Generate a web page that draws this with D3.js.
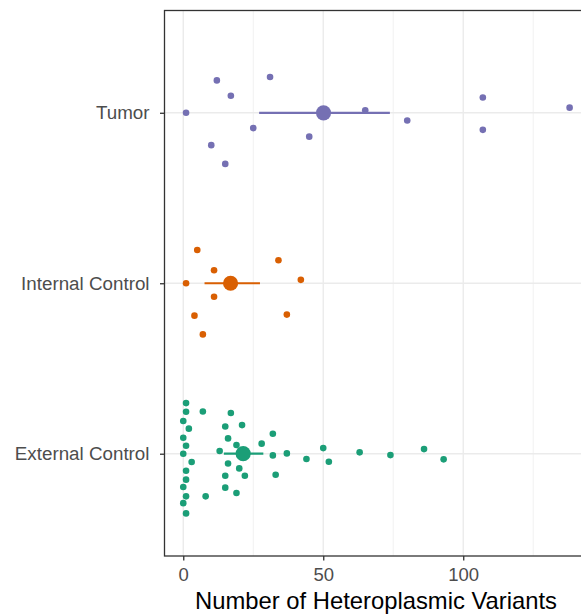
<!DOCTYPE html>
<html>
<head>
<meta charset="utf-8">
<script src="https://cdn.jsdelivr.net/npm/d3@7"></script>
<style>
  body { margin: 0; background: #fff; }
  svg { display: block; font-family: 'Liberation Sans', Arial, sans-serif; }
</style>
</head>
<body>
<div class="container"></div>
<script>
// groups, bottom to top
const groups = ['External Control', 'Internal Control', 'Tumor'];
const colors = ['#1b9e77', '#d95f02', '#7570b3'];

// per-point values and vertical jitter (in category units)
const tumorValues = [1, 12, 17, 31, 25, 10, 15, 45, 65, 80, 107, 107, 138];
const tumorJitter = [0, 0.19, 0.1, 0.21, -0.09, -0.19, -0.3, -0.14, 0.015, -0.045, 0.09, -0.1, 0.03];

const internalValues = [5, 11, 1, 11, 4, 7, 34, 42, 37];
const internalJitter = [0.195, 0.076, 0, -0.079, -0.19, -0.3, 0.135, 0.02, -0.184];

const externalValues = [1, 1, 7, 17, 0, 2, 15, 21, 32, 0, 16, 1, 19, 28, 0, 13, 32, 37, 50, 63,
  74, 86, 93, 44, 52, 3, 16, 20, 1, 15, 22, 33, 1, 0, 15, 1, 8, 19, 0, 1];
const externalJitter = [0.297, 0.246, 0.248, 0.239, 0.192, 0.147, 0.16, 0.168, 0.117, 0.094, 0.09,
  0.047, 0.051, 0.059, 0, 0.016, -0.01, 0.002, 0.033, 0.008, -0.008, 0.027, -0.033, -0.031, -0.047,
  -0.049, -0.057, -0.086, -0.1, -0.129, -0.129, -0.123, -0.152, -0.195, -0.199, -0.25, -0.25, -0.23,
  -0.29, -0.35];

// summary: mean and interval, same order as groups
const means = [21.4, 16.9, 50.1];
const lower = [14.5, 7.6, 27.1];
const upper = [28.6, 27.4, 73.8];

const xTicks = [0, 50, 100];
const xMinor = [25, 75, 125];

const w = 581;
const h = 614;
const pLeft = 164.5;
const pTop = 10.5;
const pBottom = 556;
const pRight = 589.5;

const svg = d3
  .select('.container')
  .append('svg')
  .attr('width', w)
  .attr('height', h);

const xScale = d3.scaleLinear().domain([-6.7, 145.1]).range([pLeft, pRight]);
const yScale = d3.scaleLinear().domain([0.4, 3.6]).range([pBottom, pTop]);

svg
  .append('defs')
  .append('clipPath')
  .attr('id', 'panel')
  .append('rect')
  .attr('x', pLeft)
  .attr('y', pTop)
  .attr('width', pRight - pLeft)
  .attr('height', pBottom - pTop);

const panel = svg.append('g').attr('clip-path', 'url(#panel)');

// grid
panel
  .selectAll('.minor')
  .data(xMinor)
  .enter()
  .append('line')
  .attr('x1', (d) => xScale(d))
  .attr('x2', (d) => xScale(d))
  .attr('y1', pTop)
  .attr('y2', pBottom)
  .style('stroke', '#ebebeb')
  .style('stroke-width', 0.7);

panel
  .selectAll('.major')
  .data(xTicks)
  .enter()
  .append('line')
  .attr('x1', (d) => xScale(d))
  .attr('x2', (d) => xScale(d))
  .attr('y1', pTop)
  .attr('y2', pBottom)
  .style('stroke', '#ebebeb')
  .style('stroke-width', 1.4);

panel
  .selectAll('.hgrid')
  .data([1, 2, 3])
  .enter()
  .append('line')
  .attr('x1', pLeft)
  .attr('x2', pRight)
  .attr('y1', (d) => yScale(d))
  .attr('y2', (d) => yScale(d))
  .style('stroke', '#ebebeb')
  .style('stroke-width', 1.4);

// points
const series = [
  [externalValues, externalJitter],
  [internalValues, internalJitter],
  [tumorValues, tumorJitter]
];

series.forEach(function (s, gi) {
  const pts = s[0].map((v, i) => ({ v: v, j: s[1][i] }));
  panel
    .append('g')
    .selectAll('circle')
    .data(pts)
    .enter()
    .append('circle')
    .attr('cx', (d) => xScale(d.v))
    .attr('cy', (d) => yScale(gi + 1 + d.j))
    .attr('r', 3.3)
    .style('fill', colors[gi]);
});

// intervals and means
panel
  .selectAll('.bar')
  .data(groups)
  .enter()
  .append('line')
  .attr('x1', (d, i) => xScale(lower[i]))
  .attr('x2', (d, i) => xScale(upper[i]))
  .attr('y1', (d, i) => yScale(i + 1))
  .attr('y2', (d, i) => yScale(i + 1))
  .style('stroke', (d, i) => colors[i])
  .style('stroke-width', 2.2);

panel
  .selectAll('.mean')
  .data(groups)
  .enter()
  .append('circle')
  .attr('cx', (d, i) => xScale(means[i]))
  .attr('cy', (d, i) => yScale(i + 1))
  .attr('r', 7.6)
  .style('fill', (d, i) => colors[i]);

// border
svg
  .append('rect')
  .attr('x', pLeft)
  .attr('y', pTop)
  .attr('width', pRight - pLeft)
  .attr('height', pBottom - pTop)
  .style('fill', 'none')
  .style('stroke', '#333333')
  .style('stroke-width', 1.3);

// axes
const xAxis = svg
  .append('g')
  .attr('transform', 'translate(0,' + pBottom + ')')
  .call(d3.axisBottom(xScale).tickValues(xTicks).tickSize(4.5).tickPadding(7.5));
xAxis.select('.domain').remove();
xAxis.selectAll('line').style('stroke', '#333333').style('stroke-width', 1.3);
xAxis
  .selectAll('text')
  .style('font-size', '18.5px')
  .style('fill', '#4d4d4d')
  .style('font-family', "'Liberation Sans', Arial, sans-serif");

const yAxis = svg
  .append('g')
  .attr('transform', 'translate(' + pLeft + ',0)')
  .call(
    d3
      .axisLeft(yScale)
      .tickValues([1, 2, 3])
      .tickFormat((d) => groups[d - 1])
      .tickSize(4.5)
      .tickPadding(10.5)
  );
yAxis.select('.domain').remove();
yAxis.selectAll('line').style('stroke', '#333333').style('stroke-width', 1.3);
yAxis
  .selectAll('text')
  .style('font-size', '18.8px')
  .style('fill', '#4d4d4d')
  .style('font-family', "'Liberation Sans', Arial, sans-serif");

svg
  .append('text')
  .attr('x', 376)
  .attr('y', 609)
  .attr('text-anchor', 'middle')
  .style('font-size', '23.8px')
  .style('fill', '#000')
  .text('Number of Heteroplasmic Variants');
</script>
</body>
</html>
